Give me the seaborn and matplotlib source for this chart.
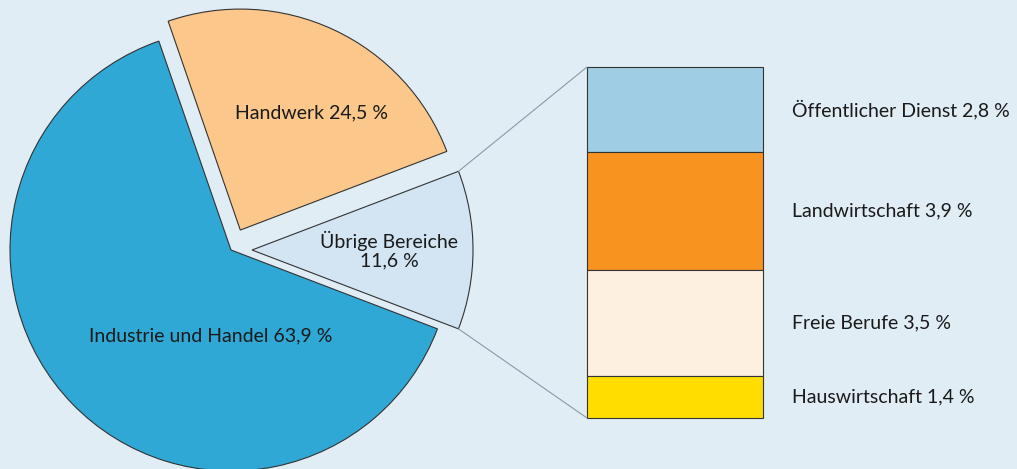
import numpy as np
import matplotlib
matplotlib.use("Agg")
import matplotlib.pyplot as plt
import seaborn as sns
from matplotlib.patches import ConnectionPatch
from matplotlib.transforms import blended_transform_factory

# data
pie_labels = ["Industrie und Handel 63,9 %", "Handwerk 24,5 %", "Übrige Bereiche\n11,6 %"]
pie_values = [63.9, 24.5, 11.6]
pie_colors = ["#2fa8d5", "#fcc78a", "#d3e5f2"]

bar_labels = ["Öffentlicher Dienst 2,8 %", "Landwirtschaft 3,9 %", "Freie Berufe 3,5 %", "Hauswirtschaft 1,4 %"]
bar_values = [2.8, 3.9, 3.5, 1.4]
bar_colors = ["#9fcde4", "#f7931e", "#fef0e1", "#ffdd00"]

bg = "#e0edf5"
sns.set_theme(style="white")
plt.rcParams["font.family"] = ["Lato", "DejaVu Sans"]
fs = 14

fig = plt.figure(figsize=(10.17, 4.69), dpi=100, facecolor=bg)
ax = fig.add_axes([0, 0, 1, 1])
ax.set_facecolor(bg)

cx, cy, r = 231, 219, 221
wedges, texts = ax.pie(pie_values, colors=pie_colors, labels=pie_labels,
                       explode=[0, 22, 21], center=(cx, cy), radius=r,
                       startangle=-20.9, counterclock=False, labeldistance=0.62,
                       wedgeprops=dict(edgecolor="#333333", linewidth=0.8),
                       textprops=dict(fontsize=fs, color="#1a1a1a", linespacing=1.05))
for t in texts:
    t.set_ha("center")
    t.set_va("center")
texts[0].set_position((cx - 0.09 * r, cy - 0.39 * r))
hc = wedges[1].center
texts[1].set_position((hc[0] + 0.32 * r, hc[1] + 0.53 * r))

ax.set_xlim(0, 1017)
ax.set_ylim(0, 469)
ax.set_aspect("auto")
ax.axis("off")

# stacked bar for "Übrige Bereiche"
ax2 = fig.add_axes([587 / 1017, 51 / 469, 176 / 1017, 351 / 469])
ax2.set_facecolor(bg)
bottom = sum(bar_values)
trans = blended_transform_factory(ax2.transAxes, ax2.transData)
for lab, val, col in zip(bar_labels, bar_values, bar_colors):
    bottom -= val
    ax2.bar(0, val, bottom=bottom, width=1, color=col, edgecolor="#333333",
            linewidth=0.8, clip_on=False)
    ax2.text(1.165, bottom + val / 2, lab, transform=trans, ha="left", va="center",
             fontsize=fs, color="#1a1a1a")
ax2.set_xlim(-0.5, 0.5)
ax2.set_ylim(0, sum(bar_values))
ax2.axis("off")

# connecting lines
w = wedges[2]
wc = w.center
for theta, yb in [(w.theta2, 1), (w.theta1, 0)]:
    p = (wc[0] + r * np.cos(np.radians(theta)), wc[1] + r * np.sin(np.radians(theta)))
    con = ConnectionPatch(xyA=(0, yb), coordsA=ax2.transAxes, xyB=p, coordsB=ax.transData,
                          color="#8a9aa6", linewidth=0.8)
    fig.add_artist(con)

fig.savefig("out.png", dpi=100, facecolor=bg)
